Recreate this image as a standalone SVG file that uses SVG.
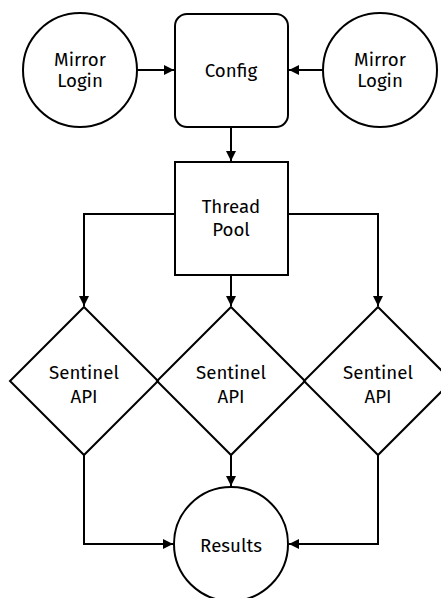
<svg xmlns="http://www.w3.org/2000/svg" width="441" height="598" viewBox="0 0 441 598">
<defs>
<marker id="ah" viewBox="0 0 10 10" refX="10" refY="5" markerWidth="10" markerHeight="10" markerUnits="userSpaceOnUse" orient="auto">
<path d="M0,0 L10,5 L0,10 Z" fill="#000"/>
</marker>
<style>
.n{fill:#fff;stroke:#000;stroke-width:2}
.d{fill:none;stroke:#000;stroke-width:2}
.e{fill:none;stroke:#000;stroke-width:2;marker-end:url(#ah)}
text{font-family:"Fira Sans","Noto Sans","Open Sans",sans-serif;font-size:18.7px;fill:#000;text-anchor:middle}
</style>
</defs>
<rect width="441" height="598" fill="#fff"/>
<g id="connectors">
<path class="e" d="M137,70 H174"/>
<path class="e" d="M323,70 H289"/>
<path class="e" d="M231,127 V161"/>
<path class="e" d="M175,214 H84 V306"/>
<path class="e" d="M231,275 V306"/>
<path class="e" d="M288,214 H378 V306"/>
<path class="e" d="M84,455 V544 H173"/>
<path class="e" d="M231,455 V486"/>
<path class="e" d="M378,455 V544 H289"/>
</g>
<g id="mirror1"><circle class="n" cx="80" cy="70" r="57"/><text x="80" y="66">Mirror</text><text x="80" y="87">Login</text></g>
<g id="config"><rect class="n" x="175" y="14" width="113" height="113" rx="12"/><text x="231" y="77">Config</text></g>
<g id="mirror2"><circle class="n" cx="380" cy="70" r="57"/><text x="380" y="66">Mirror</text><text x="380" y="87">Login</text></g>
<g id="threadpool"><rect class="n" x="175" y="162" width="113" height="113"/><text x="231" y="213">Thread</text><text x="231" y="236">Pool</text></g>
<g id="sentinel1"><path class="d" d="M84,307 L158,381 L84,455 L10,381 Z"/><text x="84" y="379">Sentinel</text><text x="84" y="403">API</text></g>
<g id="sentinel2"><path class="d" d="M231,307 L305,381 L231,455 L157,381 Z"/><text x="231" y="379">Sentinel</text><text x="231" y="403">API</text></g>
<g id="sentinel3"><path class="d" d="M378,307 L452,381 L378,455 L304,381 Z"/><text x="378" y="379">Sentinel</text><text x="378" y="403">API</text></g>
<g id="results"><circle class="n" cx="231" cy="544" r="57"/><text x="231" y="552">Results</text></g>
</svg>
